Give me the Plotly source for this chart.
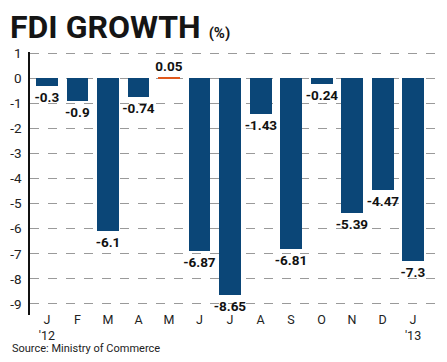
import plotly.graph_objects as go

months = ["J", "F", "M", "A", "M", "J", "J", "A", "S", "O", "N", "D", "J"]
tick_labels = ["J<br>'12", "F", "M", "A", "M", "J", "J", "A", "S", "O", "N", "D", "J<br>'13"]
values = [-0.3, -0.9, -6.1, -0.74, 0.05, -6.87, -8.65, -1.43, -6.81, -0.24, -5.39, -4.47, -7.3]
labels = ["-0.3", "-0.9", "-6.1", "-0.74", "0.05", "-6.87", "-8.65", "-1.43", "-6.81", "-0.24", "-5.39", "-4.47", "-7.3"]
y_ticks = [1, 0, -1, -2, -3, -4, -5, -6, -7, -8, -9]

x = list(range(len(values)))
colors = ["#e0581c" if v > 0 else "#0b4677" for v in values]

fig = go.Figure()
fig.add_trace(go.Bar(
    x=x, y=values, marker=dict(color=colors, line=dict(width=0)),
    width=0.72,
    text=labels, textposition="outside", cliponaxis=False,
    textfont=dict(family="Roboto, Arial, sans-serif", size=13.5, color="#111111", weight="bold"),
    outsidetextfont=dict(family="Roboto, Arial, sans-serif", size=13.5, color="#111111", weight="bold"),
))

fig.update_layout(
    width=439, height=354,
    margin=dict(l=22, r=12, t=44, b=47, autoexpand=False),
    paper_bgcolor="white", plot_bgcolor="white",
    showlegend=False,
    bargap=0,
    uniformtext=dict(minsize=13, mode="show"),
    xaxis=dict(
        range=[-0.557, 12.72], tickmode="array", tickvals=x, ticktext=tick_labels,
        showgrid=False, zeroline=False, showline=False, ticks="", automargin=False,
        ticklabelstandoff=-5,
        tickfont=dict(family="Roboto, Arial, sans-serif", size=12.5, color="#222222"),
    ),
    yaxis=dict(
        range=[-9.44, 1.05], tickmode="array", tickvals=y_ticks,
        ticktext=[str(v) for v in y_ticks],
        showgrid=True, gridcolor="#9a9a9a", griddash="dash", gridwidth=1,
        zeroline=False, showline=True, linecolor="#111111", linewidth=1.5,
        ticks="", ticklabelstandoff=4, automargin=False,
        tickfont=dict(family="Roboto, Arial, sans-serif", size=13.5, color="#222222"),
    ),
    font=dict(family="Roboto, Arial, sans-serif"),
)

fig.add_annotation(
    xref="paper", yref="paper", x=-0.054, y=1.174, xanchor="left", yanchor="top",
    text="<b>FDI GROWTH</b> <b><span style='font-size:15px'>(%)</span></b>",
    showarrow=False,
    font=dict(family="Roboto, Arial Narrow, sans-serif", size=32, color="#151515"),
)
fig.add_annotation(
    xref="paper", yref="paper", x=-0.049, y=-0.127, xanchor="left", yanchor="middle",
    text="Source: Ministry of Commerce", showarrow=False,
    font=dict(family="Roboto, Arial, sans-serif", size=11, color="#222222"),
)

fig.write_html("out.html")
